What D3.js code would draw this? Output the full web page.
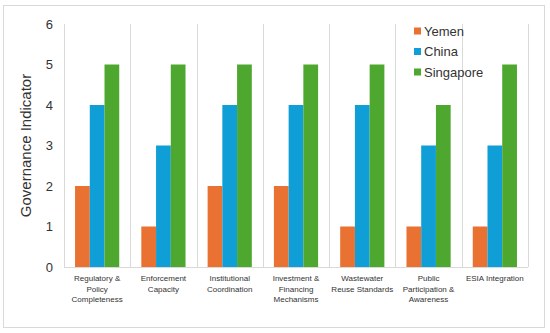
<!DOCTYPE html>
<html>
<head>
<meta charset="utf-8">
<style>
body { margin: 0; background: #fff; }
text { font-family: Arial, "Liberation Sans", sans-serif; }
</style>
</head>
<body>
<svg id="chart" width="550" height="333"></svg>
<script src="https://d3js.org/d3.v7.min.js"></script>
<script>
// data
var categories = [
  ["Regulatory &", "Policy", "Completeness"],
  ["Enforcement", "Capacity"],
  ["Institutional", "Coordination"],
  ["Investment &", "Financing", "Mechanisms"],
  ["Wastewater", "Reuse Standards"],
  ["Public", "Participation &", "Awareness"],
  ["ESIA Integration"]
];
var seriesNames = ["Yemen", "China", "Singapore"];
var yemen = [2, 1, 2, 2, 1, 1, 1];
var china = [4, 3, 4, 4, 4, 3, 3];
var singapore = [5, 5, 5, 5, 5, 4, 5];
var yTicks = [0, 1, 2, 3, 4, 5, 6];

var colors = ["#E97132", "#0F9ED5", "#4EA72E"];
var series = [yemen, china, singapore];

var svg = d3.select("#chart");
var margin = {top: 24, left: 64, right: 22, bottom: 66};
var W = 550, H = 333;

// outer chart border
svg.append("rect")
  .attr("x", 3.5).attr("y", 5.5)
  .attr("width", 541).attr("height", 322)
  .attr("fill", "none").attr("stroke", "#d9d9d9");

var x = d3.scaleBand()
  .domain(d3.range(categories.length))
  .range([margin.left, W - margin.right])
  .paddingInner(0).paddingOuter(0);

var xInner = d3.scaleBand()
  .domain(d3.range(series.length))
  .range([0, x.bandwidth()])
  .paddingOuter(0.75).paddingInner(0);

var y = d3.scaleLinear().domain([0, 6]).range([H - margin.bottom, margin.top]);

// vertical separators
var seps = d3.range(categories.length + 1);
svg.selectAll(".sep").data(seps).enter().append("line")
  .attr("x1", d => Math.round(d < categories.length ? x(d) : x.range()[1]) + 0.5)
  .attr("x2", d => Math.round(d < categories.length ? x(d) : x.range()[1]) + 0.5)
  .attr("y1", y(6)).attr("y2", y(0))
  .attr("stroke", "#d9d9d9").attr("stroke-width", 1);

// bars
series.forEach(function (vals, si) {
  svg.selectAll(".bar" + si).data(vals).enter().append("rect")
    .attr("x", (d, i) => x(i) + xInner(si))
    .attr("width", xInner.bandwidth())
    .attr("y", d => y(d))
    .attr("height", d => y(0) - y(d))
    .attr("fill", colors[si]);
});

// baseline
svg.append("line")
  .attr("x1", x.range()[0]).attr("x2", x.range()[1])
  .attr("y1", y(0) + 0.5).attr("y2", y(0) + 0.5)
  .attr("stroke", "#d9d9d9");

// y tick labels
svg.selectAll(".ytick").data(yTicks).enter().append("text")
  .attr("x", 53).attr("y", d => y(d))
  .attr("dy", "0.35em")
  .attr("text-anchor", "end")
  .attr("font-size", 13)
  .attr("fill", "#333")
  .text(d => d);

// y title
svg.append("text")
  .attr("transform", "translate(26," + (y(3)) + ") rotate(-90)")
  .attr("text-anchor", "middle")
  .attr("dy", "0.35em")
  .attr("font-size", 15)
  .attr("fill", "#333")
  .text("Governance Indicator");

// x labels
var xl = svg.selectAll(".xlab").data(categories).enter().append("text")
  .attr("text-anchor", "middle")
  .attr("font-size", 8)
  .attr("fill", "#333");
xl.each(function (lines, i) {
  var t = d3.select(this);
  lines.forEach(function (ln, j) {
    t.append("tspan")
      .attr("x", x(i) + x.bandwidth() / 2)
      .attr("y", 281 + j * 10.7)
      .text(ln);
  });
});

// legend
var leg = svg.selectAll(".leg").data(seriesNames).enter().append("g")
  .attr("transform", (d, i) => "translate(414," + (31 + i * 20.5) + ")");
leg.append("rect")
  .attr("x", 0).attr("y", -3.5).attr("width", 7).attr("height", 7)
  .attr("fill", (d, i) => colors[i]);
leg.append("text")
  .attr("x", 10).attr("dy", "0.35em")
  .attr("font-size", 13)
  .attr("fill", "#333")
  .text(d => d);
</script>
</body>
</html>
